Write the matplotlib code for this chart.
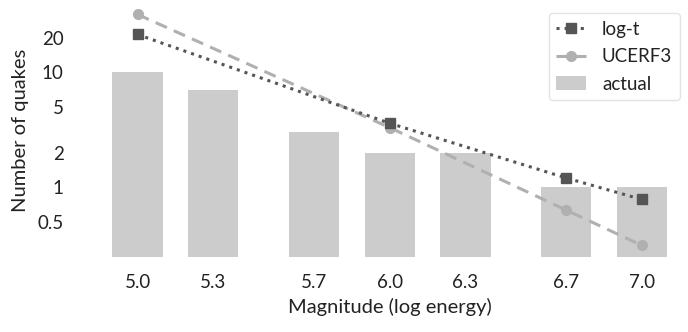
import matplotlib
matplotlib.use("Agg")
import matplotlib.pyplot as plt

magnitudes = [5.0, 5.3, 5.7, 6.0, 6.3, 6.7, 7.0]
tick_labels = ["5.0", "5.3", "5.7", "6.0", "6.3", "6.7", "7.0"]
actual = [10, 7, 3, 2, 2, 1, 1]

model_mags = [5.0, 6.0, 6.7, 7.0]
logt = [21.4, 3.6, 1.2, 0.78]
ucerf3 = [32, 3.3, 0.63, 0.31]

yticks = [0.5, 1, 2, 5, 10, 20]
ytick_labels = ["0.5", "1", "2", "5", "10", "20"]

plt.rcParams['font.family'] = ['Lato', 'DejaVu Sans']
text_color = '#222222'

fig = plt.figure(figsize=(6.88, 3.32), dpi=100)
ax = fig.add_axes([0.145, 0.226, 0.843, 0.764])

ax.bar(magnitudes, actual, width=0.2, color='#cccccc', label='actual', zorder=1)
ax.plot(model_mags, logt, linestyle=':', color='#555555', marker='s',
        markersize=6.5, linewidth=2.2, label='log-t', zorder=3)
ax.plot(model_mags, ucerf3, linestyle='--', dashes=(4, 2.5), color='#b0b0b0', marker='o',
        markersize=7, linewidth=2.2, label='UCERF3', zorder=2)

ax.set_yscale('log')
ax.set_ylim(0.246, 40)
ax.set_xlim(4.85, 7.15)
ax.set_yticks(yticks)
ax.set_yticklabels(ytick_labels)
ax.minorticks_off()
ax.set_xticks(magnitudes)
ax.set_xticklabels(tick_labels)
ax.tick_params(length=0, labelsize=13.5, colors=text_color, pad=12)
ax.tick_params(axis='y', pad=26)
for s in ax.spines.values():
    s.set_visible(False)

ax.set_xlabel('Magnitude (log energy)', fontsize=14.5, color=text_color, labelpad=5)
ax.set_ylabel('Number of quakes', fontsize=14.5, color=text_color, labelpad=6)

leg = ax.legend(loc='upper right', bbox_to_anchor=(1.0, 0.96), fontsize=13.5,
                frameon=True, fancybox=True, edgecolor='#dddddd',
                handlelength=1.6, borderaxespad=0.0, labelspacing=0.55,
                handletextpad=0.85, labelcolor=text_color)
leg.get_frame().set_linewidth(1.0)

fig.savefig('out.png', dpi=100)
